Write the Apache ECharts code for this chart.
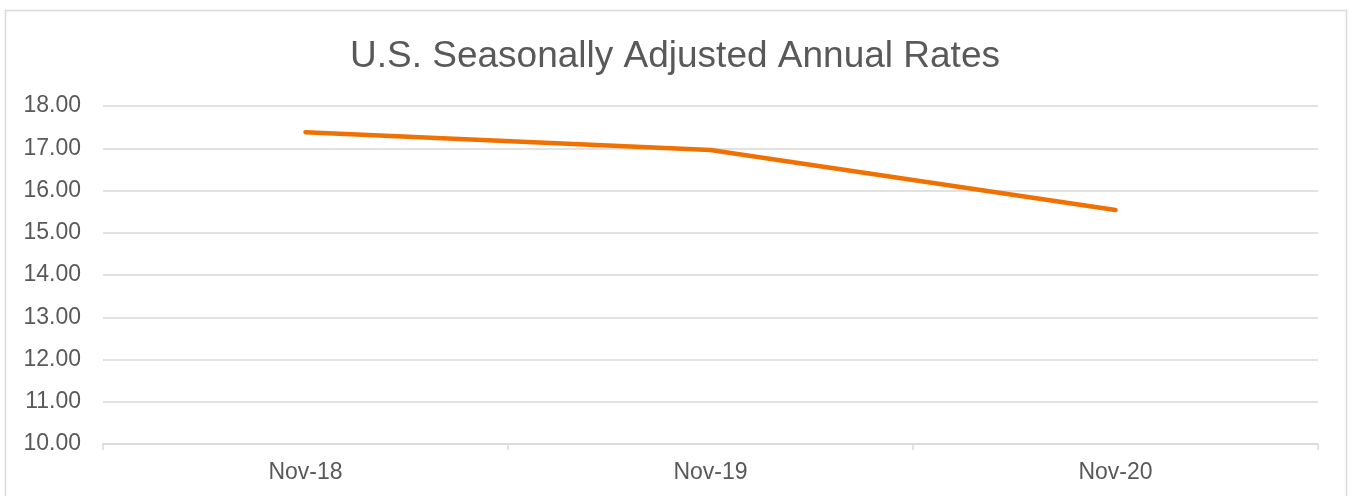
<!doctype html>
<html>
<head>
<meta charset="utf-8" />
<script src="https://cdn.jsdelivr.net/npm/echarts@6/dist/echarts.min.js"></script>
<style>
  html, body { margin: 0; padding: 0; background: #fff; }
  #chart { width: 1350px; height: 496px; }
</style>
</head>
<body>
<div id="chart"></div>
<script>
  const categories = ['Nov-18', 'Nov-19', 'Nov-20'];
  const rates = [17.38, 16.96, 15.54];
  const yTicks = { min: 10, max: 18, interval: 1 };

  const textColor = '#595959';
  const gridColor = '#d9d9d9';

  const chart = echarts.init(document.getElementById('chart'));
  chart.setOption({
    backgroundColor: '#ffffff',
    animation: false,
    textStyle: { fontFamily: 'Liberation Sans, Arial, sans-serif' },
    graphic: [
      {
        type: 'rect',
        shape: { x: 5.5, y: 10.5, width: 1341, height: 500 },
        style: { fill: 'none', stroke: gridColor, lineWidth: 1.5 },
        silent: true
      }
    ],
    title: {
      text: 'U.S. Seasonally Adjusted Annual Rates',
      left: 'center',
      top: 33,
      textStyle: { color: textColor, fontSize: 37, fontWeight: 'normal' }
    },
    grid: { left: 103, right: 32, top: 106, bottom: 52 },
    xAxis: {
      type: 'category',
      data: categories,
      boundaryGap: true,
      axisLine: { lineStyle: { color: gridColor, width: 1.5 } },
      axisTick: { show: true, length: 6, lineStyle: { color: gridColor, width: 1.5 } },
      axisLabel: { color: textColor, fontSize: 23, margin: 17 }
    },
    yAxis: {
      type: 'value',
      min: yTicks.min,
      max: yTicks.max,
      interval: yTicks.interval,
      axisLine: { show: false },
      axisTick: { show: false },
      splitLine: { lineStyle: { color: gridColor, width: 1.5 } },
      axisLabel: {
        color: textColor,
        fontSize: 23,
        margin: 22,
        padding: [4, 0, 0, 0],
        formatter: (v) => v.toFixed(2)
      }
    },
    series: [
      {
        type: 'line',
        data: rates,
        symbol: 'none',
        lineStyle: { color: '#F07000', width: 4.5, cap: 'round', join: 'round' }
      }
    ]
  });
</script>
</body>
</html>
